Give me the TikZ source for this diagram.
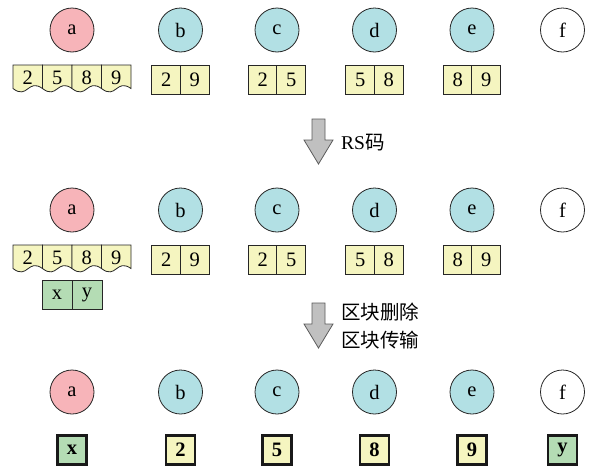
\documentclass[tikz,border=0pt]{standalone}
\usepackage{fontspec}
\setmainfont{Liberation Serif}
\newfontfamily\cjk{Noto Sans CJK SC}
\definecolor{pinkf}{RGB}{247,180,185}
\definecolor{cyanf}{RGB}{178,224,228}
\definecolor{yelf}{RGB}{245,245,192}
\definecolor{greenf}{RGB}{180,220,180}
\definecolor{arrf}{RGB}{192,192,192}
\definecolor{arrd}{RGB}{90,90,90}
\tikzset{
  fnt/.style={font=\fontsize{20.5}{23}\selectfont},
  circ/.style={circle, draw=black!85, line width=0.8pt, minimum size=44pt, inner sep=0pt, fnt},
  pinkc/.style={circ, fill=pinkf},
  bluec/.style={circ, fill=cyanf},
  whitec/.style={circ, fill=white},
  cell/.style={rectangle, draw=black!85, line width=0.8pt, minimum width=29pt, minimum height=29pt, inner sep=0pt, fill=yelf, fnt},
  gcell/.style={cell, fill=greenf, minimum width=30pt},
  bcell/.style={rectangle, draw=black!90, line width=2.4pt, minimum width=29pt, minimum height=29pt, inner sep=0pt, fill=yelf, font=\fontsize{20.5}{23}\selectfont\bfseries},
  bgcell/.style={bcell, fill=greenf},
  wav/.style={draw=black!85, line width=0.8pt, fill=yelf},
  wtext/.style={inner sep=0pt, fnt},
  blockarrow/.style={draw=arrd, line width=0.8pt, fill=arrf, line join=miter},
  lbl/.style={anchor=west, inner sep=0pt, font=\fontsize{19.5}{22}\selectfont},
}
\newcommand\wcell[4]{%
  \begin{scope}[shift={(#2,#3)}]
    \draw[wav] (0,0) -- (29.5,0) -- (29.5,23.5) .. controls (14.75,13) and (14.75,35) .. (0,23.5) -- cycle;
    \node[wtext] (#1) at (14.75,12.5) {#4};
  \end{scope}}
\newcommand\downarrowshape[3]{% name, top y, tip y
  \coordinate (#1) at (318.5,#2);
  \draw[blockarrow] (312,#2) -- (325,#2) -- (325,#2+21) -- (333,#2+21) -- (318.5,#3) -- (304,#2+21) -- (312,#2+21) -- cycle;}
\begin{document}
\begin{tikzpicture}[x=1pt,y=-1pt]
\path[use as bounding box] (0,0) rectangle (592,469);

% ---------- row 1 ----------
\node[pinkc]  (a1) at (72,30)  {a};
\node[bluec]  (b1) at (180.5,30) {b};
\node[bluec]  (c1) at (277,30) {c};
\node[bluec]  (d1) at (374.5,30) {d};
\node[bluec]  (e1) at (472,30) {e};
\node[whitec] (f1) at (562.5,30) {f};

\wcell{a1c1}{13}{65}{2}
\wcell{a1c2}{42.5}{65}{5}
\wcell{a1c3}{72}{65}{8}
\wcell{a1c4}{101.5}{65}{9}

\node[cell] (b1l) at (166.25,79.5) {2};
\node[cell] (b1r) at (194.75,79.5) {9};
\node[cell] (c1l) at (262.75,79.5) {2};
\node[cell] (c1r) at (291.25,79.5) {5};
\node[cell] (d1l) at (360.25,79.5) {5};
\node[cell] (d1r) at (388.75,79.5) {8};
\node[cell] (e1l) at (457.75,79.5) {8};
\node[cell] (e1r) at (486.25,79.5) {9};

% ---------- arrow 1 ----------
\downarrowshape{arr1}{119}{164}
\node[lbl] (t1) at (341,143) {RS{\cjk 码}};

% ---------- row 2 ----------
\node[pinkc]  (a2) at (72,210)  {a};
\node[bluec]  (b2) at (180.5,210) {b};
\node[bluec]  (c2) at (277,210) {c};
\node[bluec]  (d2) at (374.5,210) {d};
\node[bluec]  (e2) at (472,210) {e};
\node[whitec] (f2) at (562.5,210) {f};

\wcell{a2c1}{13}{245}{2}
\wcell{a2c2}{42.5}{245}{5}
\wcell{a2c3}{72}{245}{8}
\wcell{a2c4}{101.5}{245}{9}

\node[gcell] (xc) at (57,295) {x};
\node[gcell] (yc) at (87,295) {y};

\node[cell] (b2l) at (166.25,259.5) {2};
\node[cell] (b2r) at (194.75,259.5) {9};
\node[cell] (c2l) at (262.75,259.5) {2};
\node[cell] (c2r) at (291.25,259.5) {5};
\node[cell] (d2l) at (360.25,259.5) {5};
\node[cell] (d2r) at (388.75,259.5) {8};
\node[cell] (e2l) at (457.75,259.5) {8};
\node[cell] (e2r) at (486.25,259.5) {9};

% ---------- arrow 2 ----------
\downarrowshape{arr2}{303}{348}
\node[lbl] (t2) at (341,312) {\cjk 区块删除};
\node[lbl] (t3) at (341,340) {\cjk 区块传输};

% ---------- row 3 ----------
\node[pinkc]  (a3) at (72,392)  {a};
\node[bluec]  (b3) at (180.5,392) {b};
\node[bluec]  (c3) at (277,392) {c};
\node[bluec]  (d3) at (374.5,392) {d};
\node[bluec]  (e3) at (472,392) {e};
\node[whitec] (f3) at (562.5,392) {f};

\node[bgcell] (a3b) at (72,450)    {x};
\node[bcell]  (b3b) at (180.5,450) {2};
\node[bcell]  (c3b) at (277,450)   {5};
\node[bcell]  (d3b) at (374.5,450) {8};
\node[bcell]  (e3b) at (472,450)   {9};
\node[bgcell] (f3b) at (562.5,450) {y};
\end{tikzpicture}
\end{document}
